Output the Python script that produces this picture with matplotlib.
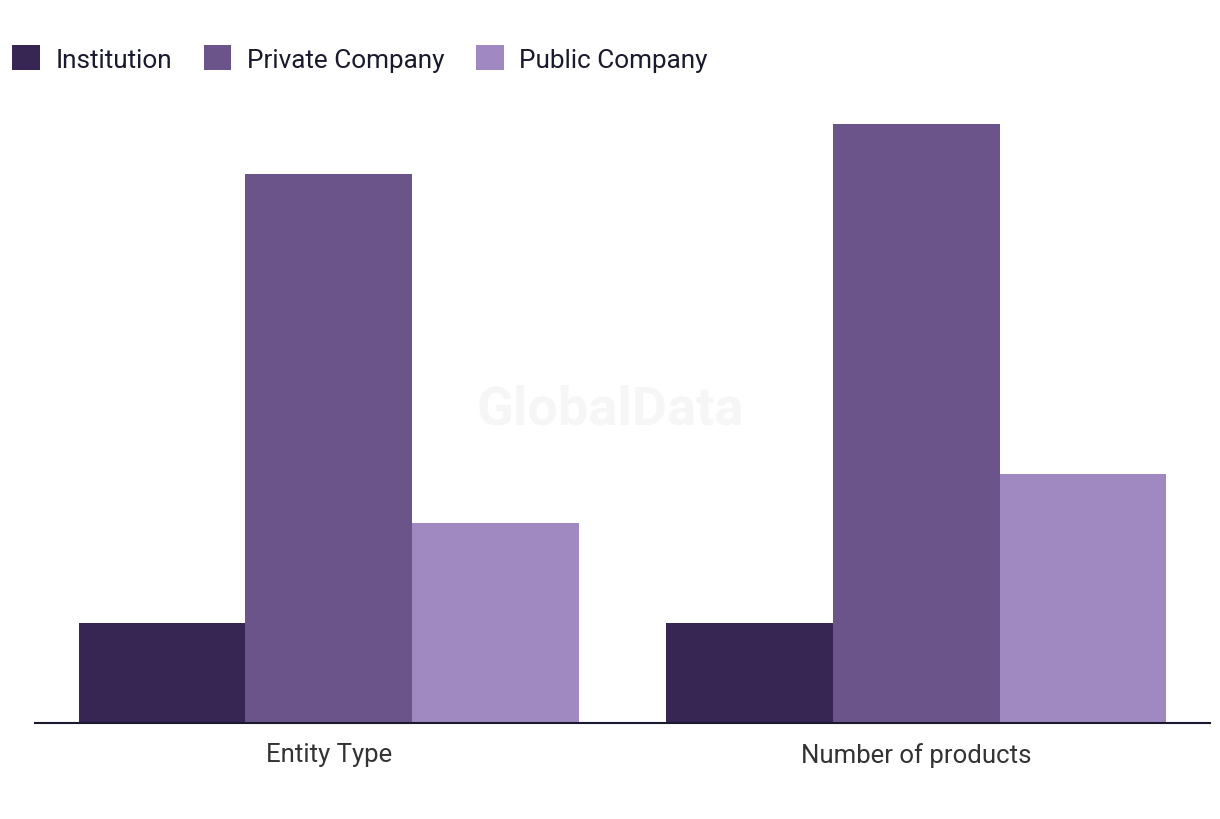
import matplotlib
matplotlib.use("Agg")
import matplotlib.pyplot as plt
import numpy as np

categories = ["Entity Type", "Number of products"]
series_names = ["Institution", "Private Company", "Public Company"]
institution = [2, 2]
private_company = [11, 12]
public_company = [4, 5]
colors = ["#372554", "#6a5489", "#a088c0"]

plt.rcParams["font.family"] = ["Roboto", "DejaVu Sans"]

fig = plt.figure(figsize=(12.2, 8.2), dpi=100)
ax = fig.add_axes([35 / 1220, 96 / 820, 1175 / 1220, 623.75 / 820])

x = np.arange(len(categories))
width = 0.2836
all_values = [institution, private_company, public_company]
for i, (name, vals) in enumerate(zip(series_names, all_values)):
    ax.bar(x + (i - 1) * width, vals, width, color=colors[i], label=name, zorder=2)

ax.set_xlim(-0.5, 1.5)
ax.set_ylim(0, 12.5)
ax.set_xticks(x)
ax.set_xticklabels(categories, fontsize=18.5, color="#333333")
ax.tick_params(axis="x", length=0, pad=14)
ax.set_yticks([])
for side in ["top", "right", "left"]:
    ax.spines[side].set_visible(False)
ax.spines["bottom"].set_color("#1a1a2e")
ax.spines["bottom"].set_linewidth(1.5)
ax.spines["bottom"].set_zorder(3)

# watermark
fig.text(610 / 1220, 1 - 410 / 820, "GlobalData", fontsize=39, fontweight="bold",
         color="#f6f6f6", ha="center", va="center", zorder=0)

ax.legend(loc="upper left", bbox_to_anchor=(2 / 1220, 1 - 36 / 820), bbox_transform=fig.transFigure,
          ncol=3, frameon=False, fontsize=18.8, handlelength=1.06, handleheight=1.06,
          handletextpad=0.6, columnspacing=1.2, borderaxespad=0, labelcolor="#1a1a2e")

fig.savefig("out.png", dpi=100, facecolor="white")
